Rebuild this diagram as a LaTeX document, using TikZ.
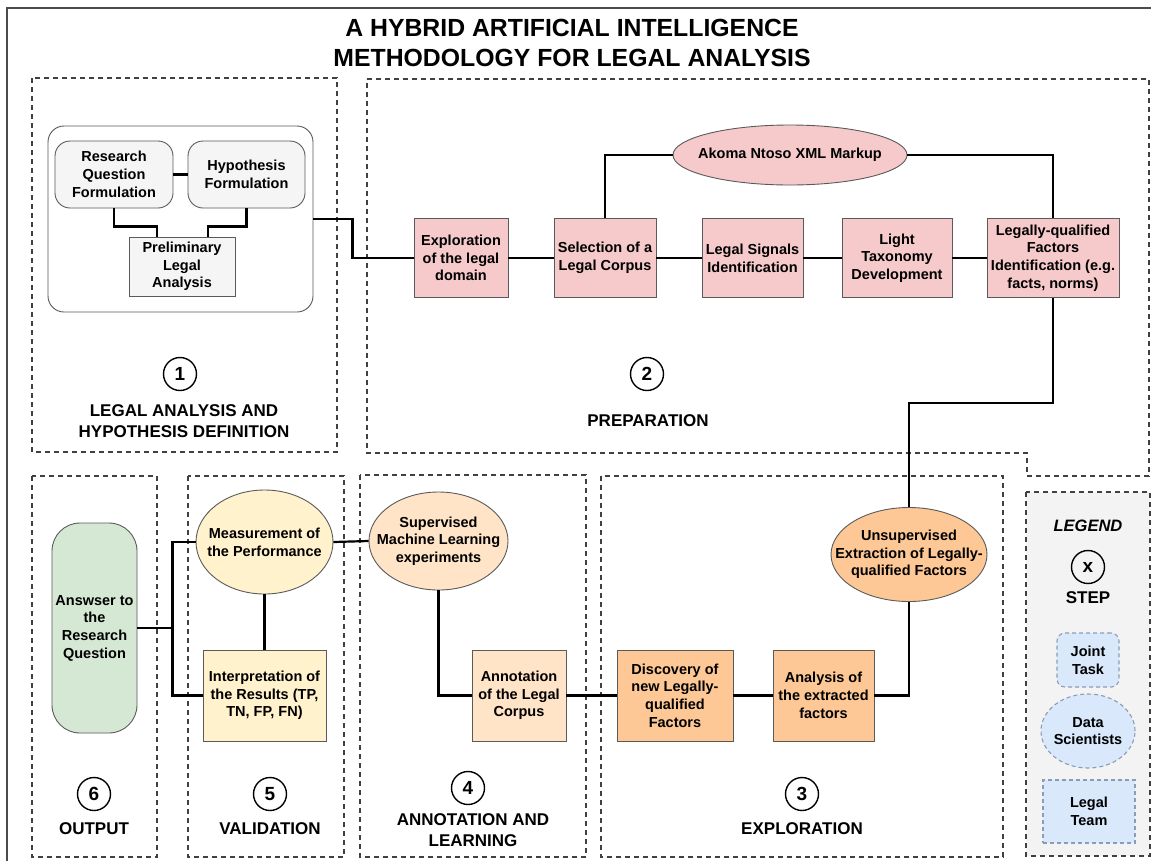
\documentclass[tikz,border=0pt]{standalone}
\usepackage{fontspec}
\setmainfont{Liberation Sans}
\usetikzlibrary{shapes.geometric,calc}
\definecolor{pinkf}{HTML}{F6CACA}
\definecolor{orangef}{HTML}{FDC896}
\definecolor{peachf}{HTML}{FFE4C8}
\definecolor{yellowf}{HTML}{FFF2CC}
\definecolor{greenf}{HTML}{D5E8D4}
\definecolor{grayf}{HTML}{F5F5F5}
\definecolor{legbg}{HTML}{F3F3F3}
\definecolor{bluef}{HTML}{DAE8FC}
\definecolor{blued}{HTML}{8A9DB8}
\definecolor{nodeb}{HTML}{5A5A5A}
\begin{document}
\begin{tikzpicture}[x=1pt,y=-1pt,
  txt/.style={font=\fontsize{14.5}{17.7}\selectfont\bfseries, align=center},
  base/.style={txt, draw=nodeb, line width=0.9pt, inner sep=0pt},
  pinkbox/.style={base, fill=pinkf, rectangle},
  orangebox/.style={base, fill=orangef, rectangle},
  peachbox/.style={base, fill=peachf, rectangle},
  yellowbox/.style={base, fill=yellowf, rectangle},
  graybox/.style={base, fill=grayf, rectangle},
  ell/.style={base, ellipse},
  inlabel/.style={label={[txt, inner sep=0pt]center:{#1}}},
  secbox/.style={draw=black!75, line width=1.3pt, dash pattern=on 5pt off 4pt},
  conn/.style={draw=black, line width=2.2pt},
  stepnum/.style={circle, draw=black, line width=1.4pt, minimum size=33pt, inner sep=0pt, font=\fontsize{19}{19}\selectfont\bfseries},
  seclabel/.style={font=\fontsize{17}{21}\selectfont\bfseries, align=center},
  legitem/.style={txt, fill=bluef, draw=blued, line width=1.1pt, dash pattern=on 4pt off 3pt, inner sep=0pt}
]
\clip (0,0) rectangle (1151,860);
\fill[white] (0,0) rectangle (1151,860);
\draw[black!70, line width=1.2pt] (7,8) rectangle (1170,880);

% title
\node[font=\fontsize{24.8}{30}\selectfont\bfseries, align=center] (title) at (572,43) {A HYBRID ARTIFICIAL INTELLIGENCE\\METHODOLOGY FOR LEGAL ANALYSIS};

% section frames
\draw[secbox] (32,78) rectangle (337,452);
\draw[secbox] (367,79) -- (1149,79) -- (1149,476) -- (1027,476) -- (1027,453) -- (367,453) -- cycle;
\draw[secbox] (601,476) rectangle (1003,857);
\draw[secbox] (360,475) rectangle (586,857);
\draw[secbox] (188,476) rectangle (344,857);
\draw[secbox] (32,476) rectangle (157,857);
\draw[secbox, fill=legbg] (1026,492) rectangle (1150,856);

% section 1
\node[draw=nodeb, line width=0.9pt, rounded corners=16pt, minimum width=265, minimum height=186, inner sep=0pt] (c1) at (180.5,219) {};
\node[graybox, rounded corners=15pt, minimum width=118, minimum height=67] (rq) at (114,174.5) {Research\\Question\\Formulation};
\node[graybox, rounded corners=15pt, minimum width=117, minimum height=67] (hf) at (246.5,174.5) {Hypothesis\\Formulation};
\node[graybox, minimum width=106, minimum height=59] (pla) at (182,266.5) {Preliminary\\Legal\\Analysis};
\node[stepnum] (n1) at (180,374) {1};
\node[seclabel] (l1) at (184,421.5) {LEGAL ANALYSIS AND\\HYPOTHESIS DEFINITION};

% section 2
\node[pinkbox, minimum width=94, minimum height=79] (expl) at (461,258) {Exploration\\of the legal\\domain};
\node[pinkbox, minimum width=102, minimum height=79] (sel) at (605,258) {Selection of a\\Legal Corpus};
\node[pinkbox, minimum width=101, minimum height=79] (sig) at (752.5,258) {Legal Signals\\Identification};
\node[pinkbox, minimum width=110, minimum height=79] (tax) at (897,258) {Light\\Taxonomy\\Development};
\node[pinkbox, minimum width=132, minimum height=79] (lqf) at (1053,258) {Legally-qualified\\Factors\\Identification (e.g.\\facts, norms)};
\node[ell, fill=pinkf, minimum width=234, minimum height=60, inlabel={Akoma Ntoso XML Markup}] (akn) at (790,155) {};
\node[stepnum] (n2) at (647,374) {2};
\node[seclabel] (l2) at (648,421) {PREPARATION};

% section 3
\node[ell, fill=orangef, minimum width=156, minimum height=94, inlabel={Unsupervised\\Extraction of Legally-\\qualified Factors}] (unsup) at (909,554.5) {};
\node[orangebox, minimum width=116, minimum height=91] (disc) at (675,695.5) {Discovery of\\new Legally-\\qualified\\Factors};
\node[orangebox, minimum width=101, minimum height=91] (ana) at (823.5,695.5) {Analysis of\\the extracted\\factors};
\node[stepnum] (n3) at (802,794) {3};
\node[seclabel] (l3) at (802,829) {EXPLORATION};

% section 4
\node[ell, fill=peachf, minimum width=139, minimum height=98, inlabel={Supervised\\Machine Learning\\experiments}] (sup) at (438.5,541) {};
\node[peachbox, minimum width=94, minimum height=91] (ann) at (519,695.5) {Annotation\\of the Legal\\Corpus};
\node[stepnum] (n4) at (468,788) {4};
\node[seclabel] (l4) at (473,830) {ANNOTATION AND\\LEARNING};

% section 5
\node[ell, fill=yellowf, minimum width=137, minimum height=104, inlabel={Measurement of\\the Performance}] (meas) at (264.5,542) {};
\node[yellowbox, minimum width=123, minimum height=91] (interp) at (264.5,695.5) {Interpretation of\\the Results (TP,\\TN, FP, FN)};
\node[stepnum] (n5) at (270,794) {5};
\node[seclabel] (l5) at (270,829) {VALIDATION};

% section 6
\node[base, fill=greenf, rounded corners=28pt, minimum width=85, minimum height=210] (ans) at (94.5,628) {Answser to\\the\\Research\\Question};
\node[stepnum] (n6) at (94,794) {6};
\node[seclabel] (l6) at (94,829) {OUTPUT};

% legend
\node[font=\fontsize{16.5}{16}\selectfont\bfseries\itshape] (leg) at (1088,526) {LEGEND};
\node[stepnum] (nx) at (1088,567) {x};
\node[seclabel] (step) at (1088,598) {STEP};
\node[legitem, rounded corners=8pt, minimum width=62, minimum height=54] (joint) at (1088,660) {Joint\\Task};
\node[legitem, ellipse, minimum width=94, minimum height=74, inlabel={Data\\Scientists}] (ds) at (1088,731) {};
\node[legitem, minimum width=92, minimum height=63] (lt) at (1089,811.5) {Legal\\Team};

% connectors
\draw[conn] (rq.east) -- (hf.west);
\draw[conn] (rq.south) |- ($(pla.north)+(-25,-10)$) -- ($(pla.north)+(-25,0)$);
\draw[conn] (hf.south) |- ($(pla.north)+(26,-10)$) -- ($(pla.north)+(26,0)$);
\draw[conn] (c1.east) -- ++(39,0) |- (expl.west);
\draw[conn] (expl.east) -- (sel.west);
\draw[conn] (sel.east) -- (sig.west);
\draw[conn] (sig.east) -- (tax.west);
\draw[conn] (tax.east) -- (lqf.west);
\draw[conn] (sel.north) |- (akn.west);
\draw[conn] (akn.east) -| (lqf.north);
\draw[conn] (lqf.south) -- ++(0,105) -| (unsup.north);
\draw[conn] (ana.east) -| (unsup.south);
\draw[conn] (disc.east) -- (ana.west);
\draw[conn] (ann.east) -- (disc.west);
\draw[conn] (sup.south) |- (ann.west);
\draw[conn] (meas.east) -- (sup.west);
\draw[conn] (meas.south) -- (interp.north);
\draw[conn] (ans.east) -- ++(35,0);
\draw[conn] (meas.west) -| ($(ans.east)+(35,0)$) |- (interp.west);
\end{tikzpicture}
\end{document}
